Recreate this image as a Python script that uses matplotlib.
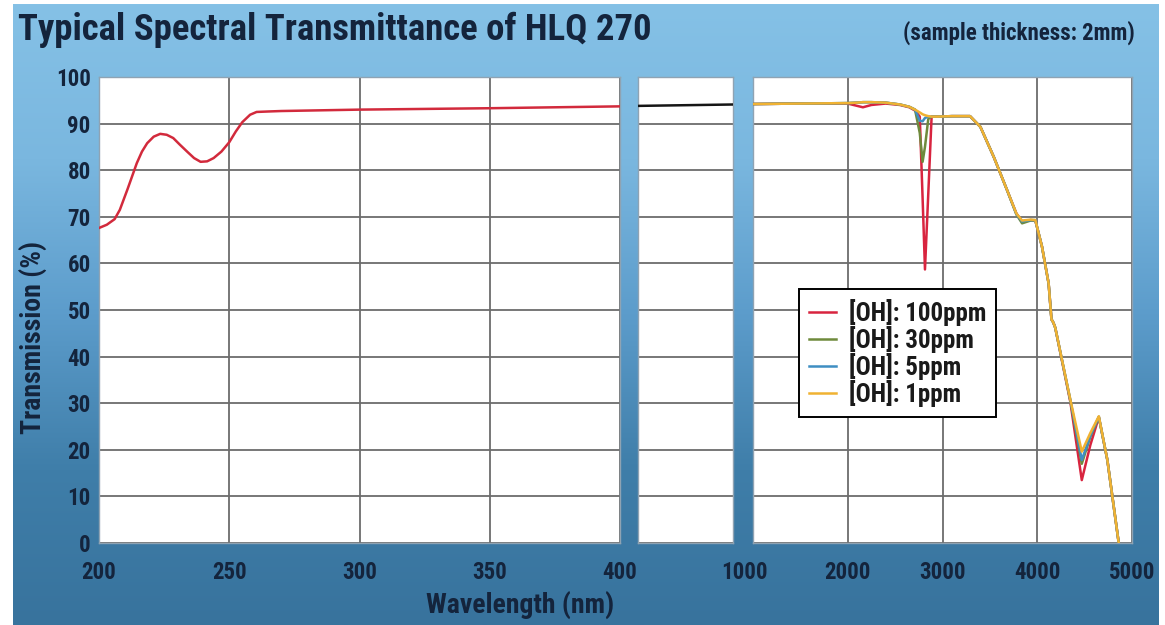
import matplotlib
matplotlib.use("Agg")
import matplotlib.pyplot as plt
import matplotlib.transforms as mtransforms
from matplotlib import font_manager
from matplotlib.colors import LinearSegmentedColormap
import numpy as np

# narrow bold face like the original artwork, if one is installed
installed = {f.name for f in font_manager.fontManager.ttflist}
narrow = None
for cand in ['Roboto Condensed', 'Liberation Sans Narrow', 'Open Sans Condensed', 'DejaVu Sans Condensed']:
    if cand in installed:
        narrow = cand
        break
if narrow is None:
    plt.rcParams['font.family'] = ['DejaVu Sans']
    plt.rcParams['font.stretch'] = 'condensed'
    scale = 0.8
else:
    plt.rcParams['font.family'] = [narrow, 'DejaVu Sans']
    scale = 1.0
plt.rcParams['font.weight'] = 'bold'

# --- data ---
wl_uv = [200, 203, 206, 208, 211, 214.5, 216.5, 218.5, 221, 223.5, 226, 228.5,
         231, 234, 236.5, 239, 241.5, 244, 247, 250, 252.5, 255, 258, 260.5,
         265, 270, 300, 350, 400]
t_uv = [67.6, 68.3, 69.5, 71.5, 76.0, 81.5, 84.0, 85.8, 87.2, 87.8, 87.6, 86.9,
        85.5, 83.9, 82.6, 81.8, 81.9, 82.6, 84.0, 86.0, 88.3, 90.3, 91.9, 92.5,
        92.6, 92.7, 93.0, 93.3, 93.7]

wl_vis = [400, 600, 800, 1000]
t_vis = [93.8, 93.9, 94.0, 94.1]

wl_ir = [1000, 1500, 2000, 2100, 2160, 2250, 2400, 2550, 2650, 2710, 2760, 2790,
         2815, 2850, 2885, 2950, 3100, 3290, 3400, 3540, 3680, 3780, 3840, 3930,
         3980, 4050, 4120, 4150, 4170, 4190, 4350, 4470, 4560, 4650, 4740, 4860]
t_100ppm = [94.2, 94.3, 94.3, 93.8, 93.5, 94.0, 94.3, 94.0, 93.5, 92.8, 91.5, 74.0,
            58.7, 75.0, 91.5, 91.5, 91.6, 91.6, 89.3, 82.9, 75.8, 70.7, 69.0, 69.3,
            69.2, 63.6, 55.7, 48.0, 47.3, 46.2, 30.2, 13.5, 21.0, 27.0, 17.8, 0.0]
t_30ppm = [94.2, 94.3, 94.4, 94.5, 94.6, 94.6, 94.5, 94.1, 93.6, 93.0, 88.0, 81.8,
           85.0, 91.0, 91.5, 91.5, 91.6, 91.6, 89.3, 82.9, 75.8, 70.5, 68.6, 69.2,
           69.2, 63.6, 55.7, 48.0, 47.3, 46.2, 30.5, 17.0, 22.8, 27.0, 17.8, 0.0]
t_5ppm = [94.2, 94.3, 94.4, 94.5, 94.6, 94.6, 94.5, 94.1, 93.6, 93.0, 90.6, 90.5,
          91.2, 91.5, 91.5, 91.5, 91.6, 91.6, 89.3, 82.9, 75.8, 70.6, 69.0, 69.3,
          69.3, 63.6, 55.7, 48.0, 47.3, 46.2, 30.6, 17.8, 23.0, 27.1, 17.8, 0.0]
t_1ppm = [94.2, 94.3, 94.4, 94.5, 94.6, 94.6, 94.5, 94.1, 93.6, 93.0, 92.4, 92.0,
          91.8, 91.6, 91.5, 91.5, 91.6, 91.6, 89.3, 82.9, 75.8, 70.7, 69.2, 69.4,
          69.3, 63.6, 55.7, 48.0, 47.3, 46.2, 30.7, 19.6, 23.6, 27.2, 17.8, 0.0]

oh_labels = ['[OH]: 100ppm', '[OH]: 30ppm', '[OH]: 5ppm', '[OH]: 1ppm']
oh_colors = ['#d8243f', '#6f8a3c', '#3f8ec2', '#f0b232']

uv_ticks = [200, 250, 300, 350, 400]
ir_ticks = [1000, 2000, 3000, 4000, 5000]
y_ticks = list(range(0, 101, 10))

navy = '#14243c'
W, H = 1165, 625

fig = plt.figure(figsize=(W / 100, H / 100), dpi=100)
fig.patch.set_facecolor('white')

# blue gradient backdrop
bg = fig.add_axes([13 / W, 0, 1146 / W, 621 / H], zorder=-5)
cmap = LinearSegmentedColormap.from_list('bg', ['#85c1e6', '#7ab7df', '#5c9ccb', '#3f7ea9', '#38739d'])
grad = np.linspace(0, 1, 256).reshape(-1, 1)
bg.imshow(grad, aspect='auto', cmap=cmap, extent=[0, 1, 0, 1], origin='upper')
bg.axis('off')

bottom = 82 / H
height = 466 / H
ax1 = fig.add_axes([99 / W, bottom, 521 / W, height])
ax2 = fig.add_axes([638 / W, bottom, 95 / W, height])
ax3 = fig.add_axes([753 / W, bottom, 379 / W, height])

for ax in (ax1, ax2, ax3):
    ax.set_facecolor('white')
    ax.set_ylim(0, 100)
    ax.set_yticks(y_ticks)
    ax.grid(True, color='#6c6c6c', lw=1.3)
    ax.set_axisbelow(True)
    ax.tick_params(length=0, labelsize=16.5 * scale, labelcolor=navy, pad=13)
    for s in ax.spines.values():
        s.set_color('#8fa3b3')
        s.set_linewidth(1.0)

ax1.set_xlim(200, 400)
ax1.set_xticks(uv_ticks)
ax1.tick_params(axis='y', pad=6)
ax1.plot(wl_uv, t_uv, color='#d22a3c', lw=1.8, zorder=3)

ax2.set_xlim(400, 1000)
ax2.set_xticks([])
ax2.set_yticklabels([])
ax2.plot(wl_vis, t_vis, color='#151515', lw=1.8, zorder=3)

ax3.set_xlim(1000, 5000)
ax3.set_xticks(ir_ticks)
ax3.set_yticklabels([])
for t_vals, lab, col in zip([t_100ppm, t_30ppm, t_5ppm, t_1ppm], oh_labels, oh_colors):
    ax3.plot(wl_ir, t_vals, color=col, lw=1.8, label=lab, zorder=3)

# move the "1000" label into the gap between the two right panels
lbl = ax3.get_xticklabels()[0]
lbl.set_transform(lbl.get_transform() + mtransforms.ScaledTranslation(-9 / 100, 0, fig.dpi_scale_trans))

leg = ax3.legend(loc='upper left', bbox_to_anchor=(0.121, 0.545), borderaxespad=0,
                 fancybox=False, framealpha=1, edgecolor='black', fontsize=18 * scale,
                 handlelength=1.1, handletextpad=0.5, labelspacing=0.0,
                 borderpad=0.4)
leg.get_frame().set_linewidth(1.4)
for t in leg.get_texts():
    t.set_color('#1a1a1a')

fig.text(18 / W, 1 - 30 / H, 'Typical Spectral Transmittance of HLQ 270',
         fontsize=26.5 * scale, color=navy, ha='left', va='center', weight='bold')
fig.text(1135 / W, 1 - 33 / H, '(sample thickness: 2mm)',
         fontsize=16.5 * scale, color=navy, ha='right', va='center', weight='bold')
fig.text(520 / W, 1 - 605 / H, 'Wavelength (nm)', fontsize=20 * scale, color=navy,
         ha='center', va='center', weight='bold')
fig.text(33 / W, 1 - 337 / H, 'Transmission (%)', fontsize=20 * scale, color=navy,
         ha='center', va='center', rotation=90, weight='bold')

fig.savefig('out.png', dpi=100, facecolor=fig.get_facecolor())
